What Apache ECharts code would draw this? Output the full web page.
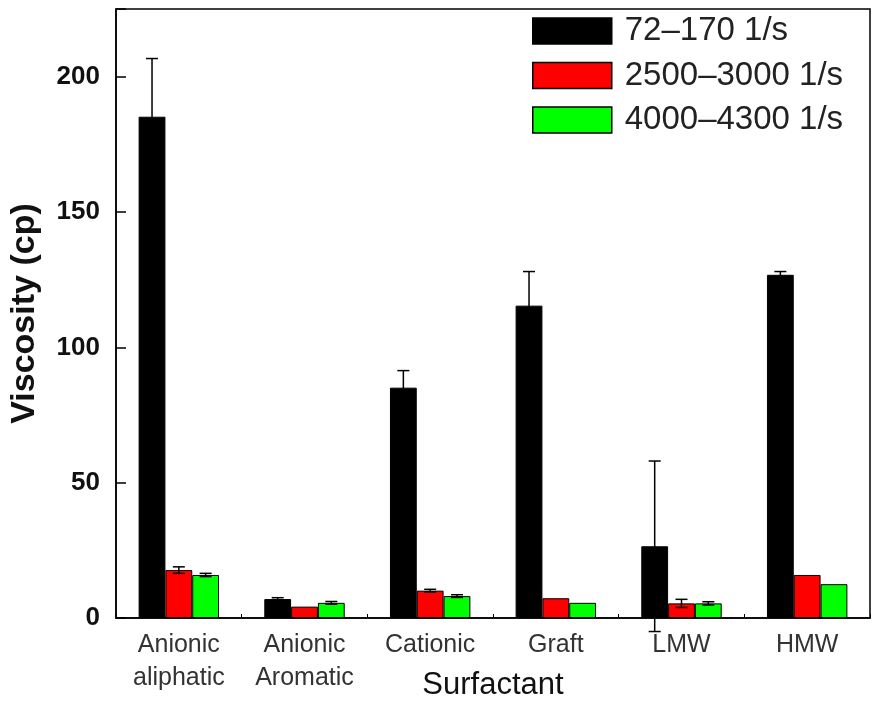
<!DOCTYPE html>
<html>
<head>
<meta charset="utf-8">
<script src="https://cdn.jsdelivr.net/npm/echarts@6/dist/echarts.min.js"></script>
<style>
  html, body { margin: 0; padding: 0; background: #fff; }
  #chart { width: 873px; height: 706px; }
</style>
</head>
<body>
<div id="chart"></div>
<script>
// Surfactant categories along the x axis
const categories = ['Anionic\naliphatic', 'Anionic\nAromatic', 'Cationic', 'Graft', 'LMW', 'HMW'];

// Shear-rate ranges (one bar series each)
const seriesNames = ['72–170 1/s', '2500–3000 1/s', '4000–4300 1/s'];

// Mean viscosity (cp) and standard deviation per surfactant
const lowShear      = [185.2, 7.0, 85.1, 115.4, 26.5, 126.8];
const lowShearErr   = [21.5, 0.5, 6.3, 12.6, 31.5, 1.2];
const midShear      = [17.7, 4.2, 10.1, 7.3, 5.4, 15.9];
const midShearErr   = [1.2, 0, 0.5, 0, 1.5, 0];
const highShear     = [15.9, 5.6, 8.1, 5.6, 5.4, 12.5];
const highShearErr  = [0.6, 0.5, 0.5, 0, 0.6, 0];

// Y axis ticks
const yTicks = { min: 0, max: 225, interval: 50 };

const barColors = ['#000000', '#ff0000', '#00ff00'];
const FONT = "'Liberation Sans', Arial, sans-serif";
const CATEGORY_GAP = 0.36;

const values = [lowShear, midShear, highShear];
const errors = [lowShearErr, midShearErr, highShearErr];

// Draws a symmetric error bar with caps over the bar in the given slot
function errorRenderer(slot) {
  return function (params, api) {
    const idx = api.value(0);
    const v = api.value(1);
    const e = api.value(2);
    if (!e) return null;
    const band = api.size([1, 0])[0];
    const barW = band * (1 - CATEGORY_GAP) / 3;
    const x = api.coord([idx, v])[0] + (slot - 1) * barW;
    const top = api.coord([idx, v + e])[1];
    const bot = api.coord([idx, v - e])[1];
    const half = 6;
    const style = { stroke: '#000', lineWidth: 1.5 };
    return {
      type: 'group',
      children: [
        { type: 'line', shape: { x1: x, y1: top, x2: x, y2: bot }, style },
        { type: 'line', shape: { x1: x - half, y1: top, x2: x + half, y2: top }, style },
        { type: 'line', shape: { x1: x - half, y1: bot, x2: x + half, y2: bot }, style }
      ]
    };
  };
}

const barSeries = seriesNames.map((name, s) => ({
  name: name,
  type: 'bar',
  data: values[s],
  barGap: '0%',
  barCategoryGap: (CATEGORY_GAP * 100) + '%',
  itemStyle: { color: barColors[s], borderColor: '#000', borderWidth: 1 },
  z: 2
}));

const errSeries = seriesNames.map((name, s) => ({
  type: 'custom',
  renderItem: errorRenderer(s),
  data: values[s].map((v, i) => [i, v, errors[s][i]]),
  clip: false,
  silent: true,
  z: 5
}));

const chart = echarts.init(document.getElementById('chart'), null, { renderer: 'canvas' });
chart.setOption({
  animation: false,
  backgroundColor: '#ffffff',
  textStyle: { fontFamily: FONT },
  grid: {
    left: 116, right: 3, top: 9, bottom: 88,
    containLabel: false,
    outerBoundsMode: 'none',
    show: true, borderColor: '#000', borderWidth: 1.5, backgroundColor: 'transparent'
  },
  legend: {
    data: seriesNames,
    orient: 'vertical',
    left: 532, top: 14.5,
    padding: 0,
    icon: 'rect',
    itemWidth: 79, itemHeight: 26, itemGap: 11.5,
    itemStyle: { borderColor: '#000', borderWidth: 1.5 },
    textStyle: { fontFamily: FONT, fontSize: 33, color: '#222', padding: [3, 0, 0, 8] }
  },
  xAxis: {
    type: 'category',
    data: categories,
    name: 'Surfactant',
    nameLocation: 'middle',
    nameGap: 52,
    nameMoveOverlap: false,
    nameTextStyle: { fontFamily: FONT, fontSize: 31, color: '#111' },
    axisLine: { lineStyle: { color: '#000', width: 1.5 } },
    axisTick: { show: true, inside: true, length: 4, lineStyle: { color: '#000', width: 1 } },
    axisLabel: { fontFamily: FONT, fontSize: 25, color: '#333', lineHeight: 33, margin: 11, interval: 0 }
  },
  yAxis: {
    type: 'value',
    min: yTicks.min, max: yTicks.max, interval: yTicks.interval,
    name: 'Viscosity (cp)',
    nameLocation: 'middle',
    nameRotate: 90,
    nameGap: 74,
    nameMoveOverlap: false,
    nameTextStyle: { fontFamily: FONT, fontSize: 34, fontWeight: 'bold', color: '#111' },
    axisLine: { show: true, lineStyle: { color: '#000', width: 1.5 } },
    axisTick: { show: true, inside: true, length: 10, lineStyle: { color: '#000', width: 1.5 } },
    axisLabel: {
      fontFamily: FONT, fontSize: 26, fontWeight: 'bold', color: '#111', margin: 16,
      formatter: v => (v % 50 === 0 ? String(v) : '')
    },
    splitLine: { show: false }
  },
  series: barSeries.concat(errSeries)
});
</script>
</body>
</html>
